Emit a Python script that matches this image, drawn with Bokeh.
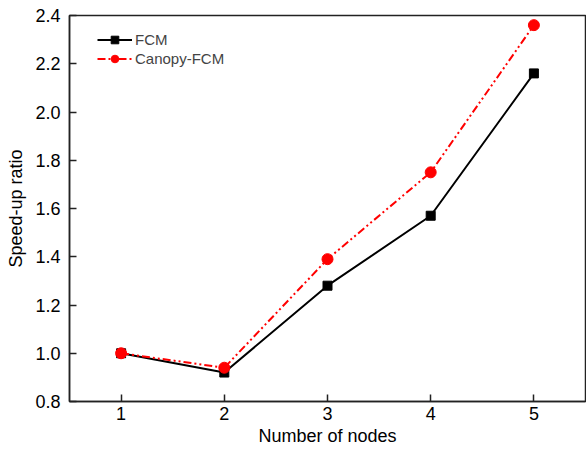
from bokeh.plotting import figure
from bokeh.models import Range1d, FixedTicker, Legend, LegendItem, CustomJSTickFormatter
from bokeh.embed import file_html
from bokeh.resources import INLINE

nodes = [1, 2, 3, 4, 5]
fcm = [1.00, 0.92, 1.28, 1.57, 2.16]
canopy_fcm = [1.00, 0.94, 1.39, 1.75, 2.36]
y_ticks = [0.8, 1.0, 1.2, 1.4, 1.6, 1.8, 2.0, 2.2, 2.4]

FONT = "Liberation Sans"

p = figure(frame_width=516, frame_height=386, output_backend="svg", toolbar_location=None,
           x_range=Range1d(0.5, 5.5), y_range=Range1d(0.8, 2.4),
           min_border_left=69, min_border_right=1, min_border_top=15, min_border_bottom=48)
p.grid.visible = False
p.outline_line_color = "#222222"
p.outline_line_width = 1.5
p.background_fill_color = "white"
p.border_fill_color = "white"

for ax in (p.xaxis[0], p.yaxis[0]):
    ax.major_tick_in = 7
    ax.major_tick_out = 0
    ax.minor_tick_in = 0
    ax.minor_tick_out = 0
    ax.axis_line_color = "#222222"
    ax.axis_line_width = 1.5
    ax.major_tick_line_color = "#222222"
    ax.major_tick_line_width = 1.5
    ax.major_label_text_font = FONT
    ax.major_label_text_font_size = "18px"
    ax.major_label_text_color = "black"
    ax.axis_label_text_font = FONT
    ax.axis_label_text_font_size = "18px"
    ax.axis_label_text_font_style = "normal"
    ax.axis_label_text_color = "black"

p.xaxis.ticker = FixedTicker(ticks=nodes)
p.yaxis.ticker = FixedTicker(ticks=y_ticks)
p.yaxis.formatter = CustomJSTickFormatter(code="return tick.toFixed(1);")
p.xaxis.axis_label = "Number of nodes"
p.yaxis.axis_label = "Speed-up ratio"
p.xaxis.major_label_standoff = 5
p.yaxis.major_label_standoff = 9
p.xaxis.axis_label_standoff = 3
p.yaxis.axis_label_standoff = 6

l1 = p.line(nodes, fcm, line_color="black", line_width=2)
m1 = p.scatter(nodes, fcm, marker="square", size=9, fill_color="black", line_color="black")
l2 = p.line(nodes, canopy_fcm, line_color="red", line_width=2, line_dash="8 3 2 3 2 3")
m2 = p.scatter(nodes, canopy_fcm, marker="circle", size=11, fill_color="red", line_color="red")

legend = Legend(items=[LegendItem(label="FCM", renderers=[l1, m1]),
                       LegendItem(label="Canopy-FCM", renderers=[l2, m2])],
                location=(28, 333), border_line_color=None, background_fill_alpha=0,
                label_text_font=FONT, label_text_font_size="15px",
                glyph_width=35, glyph_height=19, spacing=0, label_standoff=3,
                margin=0, padding=0)
p.add_layout(legend)

open("out.html", "w").write(file_html(p, INLINE))
